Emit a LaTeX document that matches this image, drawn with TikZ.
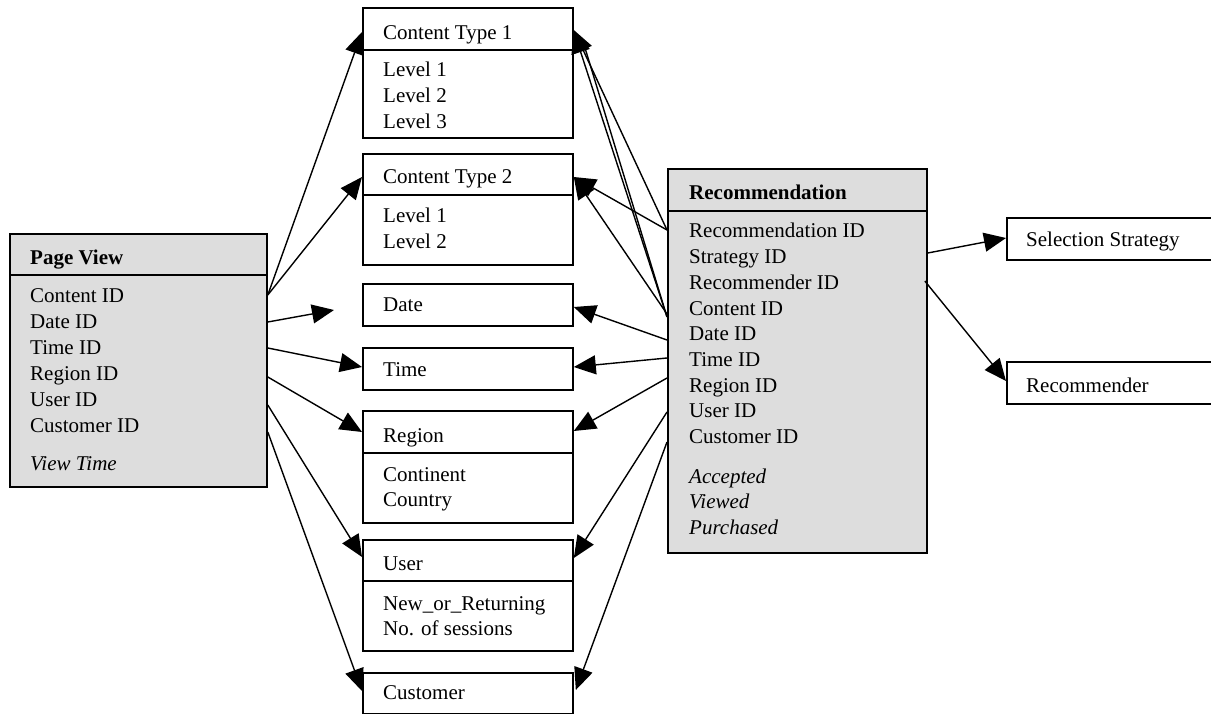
\documentclass[tikz,border=0pt]{standalone}
\usepackage{fontspec}
\setmainfont{Liberation Serif}
\usetikzlibrary{arrows.meta}
\definecolor{boxgray}{RGB}{221,221,221}
\begin{document}
\begin{tikzpicture}[x=1pt,y=-1pt,
  box/.style={draw=black,line width=1.8pt,inner sep=0pt,anchor=north west,fill=white},
  graybox/.style={box,fill=boxgray},
  sepline/.style={line width=1.8pt},
  txt/.style={anchor=base west,inner sep=0pt,font=\fontsize{21}{25.7}\selectfont},
  bold/.style={txt,font=\fontsize{21}{25.7}\selectfont\bfseries},
  ital/.style={txt,font=\fontsize{21}{25.7}\selectfont\itshape},
  plainconn/.style={line width=1.4pt},
  conn/.style={plainconn,-{Triangle[length=22pt,width=19pt]}}]
\useasboundingbox (0,0) rectangle (1211,714);
\clip (0,0) rectangle (1211,714);
% ---------- boxes ----------
\node[graybox,minimum width=257pt,minimum height=253pt] (pv) at (9,233) {};
\draw[sepline] (pv.west |- 0,275) -- (pv.east |- 0,275);
\node[box,minimum width=210pt,minimum height=130pt] (ct1) at (362,7) {};
\draw[sepline] (ct1.west |- 0,50) -- (ct1.east |- 0,50);
\node[box,minimum width=210pt,minimum height=111pt] (ct2) at (362,153) {};
\draw[sepline] (ct2.west |- 0,195) -- (ct2.east |- 0,195);
\node[box,minimum width=210pt,minimum height=42pt] (date) at (362,283) {};
\node[box,minimum width=210pt,minimum height=42pt] (time) at (362,347) {};
\node[box,minimum width=210pt,minimum height=112pt] (region) at (362,410) {};
\draw[sepline] (region.west |- 0,453) -- (region.east |- 0,453);
\node[box,minimum width=210pt,minimum height=111pt] (user) at (362,539) {};
\draw[sepline] (user.west |- 0,581) -- (user.east |- 0,581);
\node[box,minimum width=210pt,minimum height=41pt] (cust) at (362,672) {};
\node[graybox,minimum width=259pt,minimum height=384pt] (rec) at (667,168) {};
\draw[sepline] (rec.west |- 0,211) -- (rec.east |- 0,211);
\node[box,minimum width=260pt,minimum height=42pt] (sel) at (1006,217) {};
\node[box,minimum width=260pt,minimum height=42pt] (rcm) at (1006,361) {};
% ---------- texts ----------
\node[bold] (pvh) at (30,265) {Page View};
\node[txt] (pv1) at (30,303) {Content ID};
\node[txt] (pv2) at (30,328.8) {Date ID};
\node[txt] (pv3) at (30,354.6) {Time ID};
\node[txt] (pv4) at (30,380.4) {Region ID};
\node[txt] (pv5) at (30,406.2) {User ID};
\node[txt] (pv6) at (30,432) {Customer ID};
\node[ital] (pv7) at (30,470) {View Time};
\node[txt] (ct1h) at (383,40) {Content Type 1};
\node[txt] (ct1a) at (383,77) {Level 1};
\node[txt] (ct1b) at (383,102.7) {Level 2};
\node[txt] (ct1c) at (383,128.4) {Level 3};
\node[txt] (ct2h) at (383,184) {Content Type 2};
\node[txt] (ct2a) at (383,223) {Level 1};
\node[txt] (ct2b) at (383,248.7) {Level 2};
\node[txt] (dateh) at (383,312) {Date};
\node[txt] (timeh) at (383,376) {Time};
\node[txt] (regh) at (383,442) {Region};
\node[txt] (rega) at (383,481) {Continent};
\node[txt] (regb) at (383,506.7) {Country};
\node[txt] (userh) at (383,570) {User};
\node[txt] (usera) at (383,610) {New\_or\_Returning};
\node[txt] (userb) at (383,635.7) {No. of sessions};
\node[txt] (custh) at (383,699) {Customer};
\node[bold] (rech) at (689,200) {Recommendation};
\node[txt] (rec1) at (689,238) {Recommendation ID};
\node[txt] (rec2) at (689,263.7) {Strategy ID};
\node[txt] (rec3) at (689,289.4) {Recommender ID};
\node[txt] (rec4) at (689,315.1) {Content ID};
\node[txt] (rec5) at (689,340.8) {Date ID};
\node[txt] (rec6) at (689,366.5) {Time ID};
\node[txt] (rec7) at (689,392.2) {Region ID};
\node[txt] (rec8) at (689,417.9) {User ID};
\node[txt] (rec9) at (689,443.6) {Customer ID};
\node[ital] (rec10) at (689,483) {Accepted};
\node[ital] (rec11) at (689,508.7) {Viewed};
\node[ital] (rec12) at (689,534.4) {Purchased};
\node[txt] (selh) at (1026,247) {Selection Strategy};
\node[txt] (rcmh) at (1026,392) {Recommender};
% ---------- connectors from Page View ----------
\coordinate (dtip) at (334,310);
\draw[conn] (pv.east |- 0,295) -- (ct1.west |- 0,32);
\draw[conn] (pv.east |- 0,295) -- (ct2.west |- 0,177);
\draw[conn] (pv.east |- 0,322) -- (dtip);
\draw[conn] (pv.east |- 0,348) -- (time.west |- 0,367);
\draw[conn] (pv.east |- 0,377) -- (region.west |- 0,432);
\draw[conn] (pv.east |- 0,405) -- (user.west |- 0,557);
\draw[conn] (pv.east |- 0,432) -- (cust.west |- 0,691);
% ---------- connectors from Recommendation ----------
\draw[plainconn] (rec.west |- 0,317) -- ([xshift=10pt]ct1.east |- 0,44);
\draw[conn] (rec.west |- 0,230) -- (ct1.east |- 0,30);
\draw[conn] (rec.west |- 0,317) -- (ct1.east |- 0,31);
\draw[conn] (rec.west |- 0,230) -- (ct2.east |- 0,177);
\draw[conn] (rec.west |- 0,314) -- (ct2.east |- 0,177);
\draw[conn] (rec.west |- 0,340) -- (date.east |- 0,307);
\draw[conn] (rec.west |- 0,358) -- (time.east |- 0,367);
\draw[conn] (rec.west |- 0,378) -- (region.east |- 0,431);
\draw[conn] (rec.west |- 0,412) -- (user.east |- 0,558);
\draw[conn] (rec.west |- 0,442) -- ([xshift=2pt]cust.east |- 0,690);
\draw[conn] (rec.east |- 0,253) -- (sel.west |- 0,238);
\draw[conn] ([xshift=-3pt]rec.east |- 0,281) -- (rcm.west |- 0,381);
\end{tikzpicture}
\end{document}
